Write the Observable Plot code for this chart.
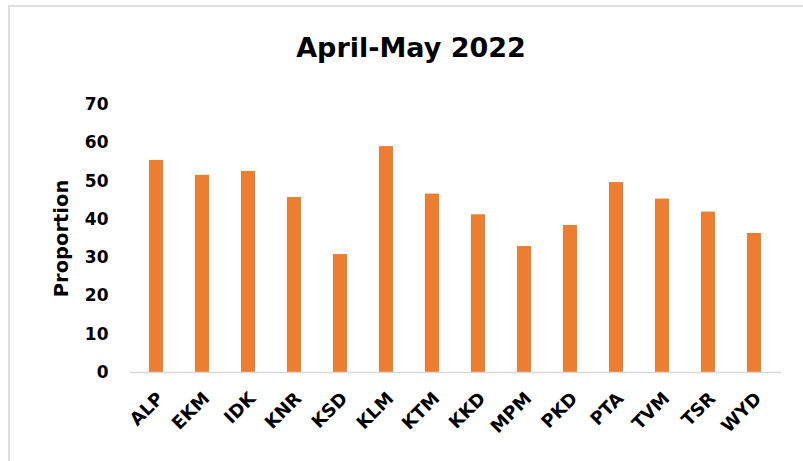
<!DOCTYPE html>
<html>
<head>
<meta charset="utf-8">
<script src="https://cdn.jsdelivr.net/npm/d3@7"></script>
<script src="https://cdn.jsdelivr.net/npm/@observablehq/plot@0.6"></script>
<style>
  html, body { margin: 0; padding: 0; background: #fff; }
  #wrap { position: relative; width: 803px; height: 461px; overflow: hidden; font-family: "DejaVu Sans", sans-serif; }
  #frame { position: absolute; left: 8px; top: 5px; width: 900px; height: 600px; border-left: 2px solid #dedede; border-top: 2px solid #dedede; pointer-events: none; }
  #title { position: absolute; left: 0; width: 822px; top: 30px; text-align: center; font-weight: 700; font-size: 27px; line-height: 36px; color: #000; }
  #chart { position: absolute; left: 0; top: 0; }
</style>
</head>
<body>
<div id="wrap">
  <div id="frame"></div>
  <div id="chart"></div>
  <div id="title">April-May 2022</div>
</div>
<script>
const categories = ["ALP","EKM","IDK","KNR","KSD","KLM","KTM","KKD","MPM","PKD","PTA","TVM","TSR","WYD"];
const proportions = [55.4, 51.5, 52.5, 45.7, 30.8, 59.0, 46.6, 41.2, 32.9, 38.4, 49.6, 45.3, 41.9, 36.3];
const yTicks = [0, 10, 20, 30, 40, 50, 60, 70];
const yLabel = "Proportion";

const data = categories.map((c, i) => ({category: c, value: proportions[i]}));

const chart = Plot.plot({
  width: 803,
  height: 461,
  marginLeft: 130,
  marginRight: 22,
  marginTop: 104,
  marginBottom: 89,
  style: {fontFamily: "'DejaVu Sans', sans-serif", fontWeight: 700, fontSize: "17px", color: "#000", background: "transparent"},
  x: {domain: categories, paddingInner: 0.69, paddingOuter: 0.345, label: null},
  y: {domain: [0, 70], ticks: yTicks, label: null},
  marks: [
    Plot.barY(data, {x: "category", y: "value", fill: "#ED7D31"}),
    Plot.ruleY([0], {stroke: "#d9d9d9", strokeWidth: 1.5}),
    Plot.axisY({ticks: yTicks, tickSize: 0, tickPadding: 22, label: null, fontSize: 17}),
    Plot.axisX({tickSize: 0, tickPadding: 23, tickRotate: -45, label: null, fontSize: 18, dx: 4}),
    Plot.text([yLabel], {frameAnchor: "left", textAnchor: "middle", dx: -69, rotate: -90, fontSize: 19.5, fontWeight: 700, text: d => d})
  ]
});
document.getElementById("chart").appendChild(chart);
</script>
</body>
</html>
